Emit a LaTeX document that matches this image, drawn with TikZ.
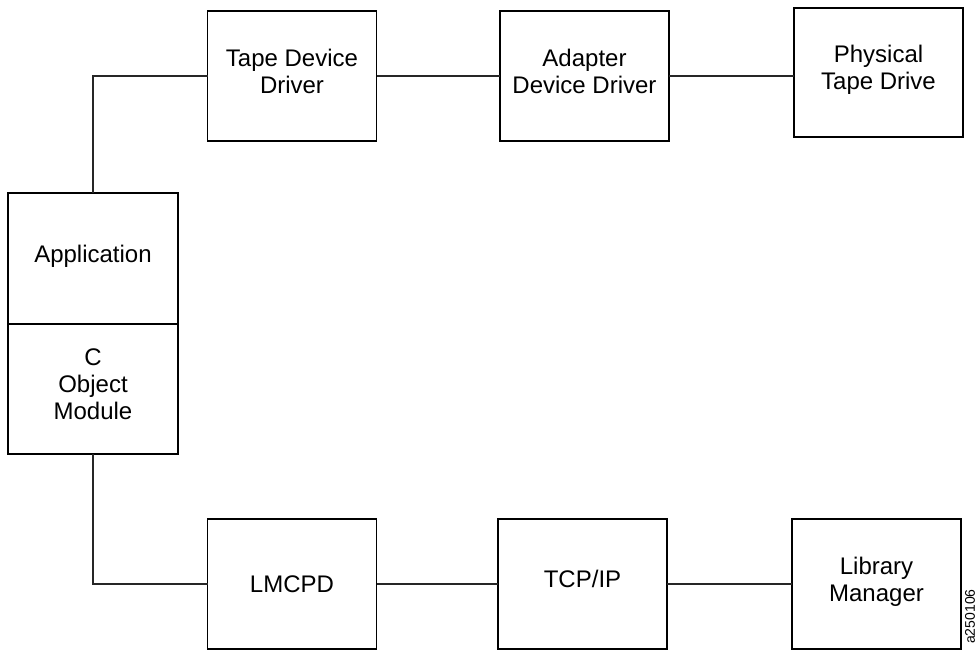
\documentclass[tikz,border=0pt]{standalone}
\usepackage{fontspec}
\setmainfont{Liberation Sans}
\usetikzlibrary{positioning}

\begin{document}
\begin{tikzpicture}[
    x=0.5pt, y=-0.5pt,
    node distance=61.75pt,
    box/.style={draw, line width=0.9pt, outer sep=0pt, minimum width=84.5pt, minimum height=65pt, align=center, inner sep=2pt, text depth=5pt, font=\fontsize{12}{13.5}\selectfont},
    link/.style={draw=black!85, line width=0.6pt}
]
\useasboundingbox (0,0) rectangle (975,651);

\node[box, minimum width=85pt, minimum height=65.5pt] (app) at (93,258.5) {Application};
\node[box, minimum width=85pt, below=0pt of app] (cobj) {C\\Object\\Module};

\node[box] (tape) at (292,76) {Tape Device\\Driver};
\node[box, right=of tape] (adapter) {Adapter\\Device Driver};
\node[box, right=62.5pt of adapter, yshift=1.75pt, minimum height=64.5pt] (phys) {Physical\\Tape Drive};

\node[box, text depth=0pt] (lmcpd) at (292,584) {LMCPD};
\node[box, right=60.75pt of lmcpd] (tcp) {TCP/IP};
\node[box, right=62.5pt of tcp] (lib) {Library\\Manager};

\draw[link] (app.north) |- (tape.west);
\draw[link] (tape) -- (adapter);
\draw[link] (adapter.east) -- (adapter.east -| phys.west);
\draw[link] (cobj.south) |- (lmcpd.west);
\draw[link] (lmcpd) -- (tcp);
\draw[link] (tcp) -- (lib);

\node[rotate=90, anchor=east, inner sep=0pt, font=\fontsize{7}{8}\selectfont] (figid) at (970,589) {a250106};
\end{tikzpicture}
\end{document}
